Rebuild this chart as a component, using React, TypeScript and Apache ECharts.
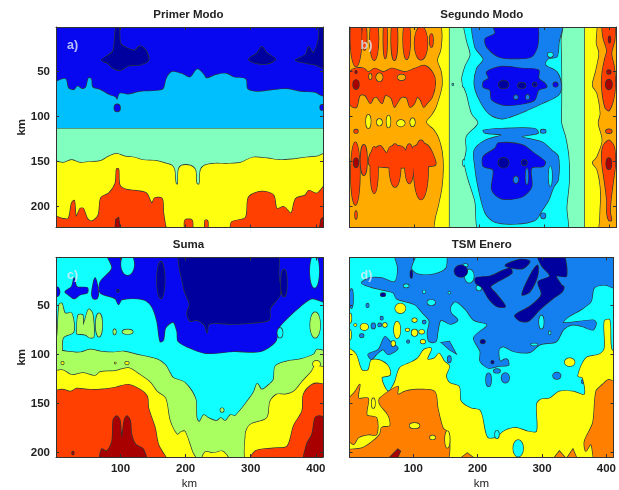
import React, { useEffect, useRef } from "react";
import * as echarts from "echarts";

// Tick labels and axis extents (km)
const xTicks = [100, 200, 300, 400];
const yTicks = [50, 100, 150, 200];
const xMin = 1;
const xMax = 411;
const yMaxTop = 224;
const yMaxBottom = 205;
const titles = ["Primer Modo", "Segundo Modo", "Suma", "TSM Enero"];
const tags = ["a)", "b)", "c)", "d)"];

// Jet colours of the filled contour levels
const navy = "#00009f";
const blue = "#0808f0";
const azure = "#1480f0";
const sky = "#00bfff";
const cyan = "#10ffff";
const aqua = "#80ffbf";
const lime = "#aaff60";
const yellow = "#ffff10";
const amber = "#ffab00";
const orange = "#ff8000";
const red = "#ff4000";
const maroon = "#a80000";

// Panel a: contour regions, flat x,y lists in km
const aFull = [1, 1, 411, 1, 411, 224, 1, 224];
const aNavy = [
  [71, 38, 82, 32, 89, 27, 93, 2, 98, 2, 100, 19, 112, 25, 122, 27, 130, 22, 139, 27, 143, 38, 130, 43, 112, 44, 100, 49, 89, 47, 80, 41],
  [297, 37, 310, 30, 317, 23, 325, 30, 338, 37, 325, 42, 307, 41],
  [369, 38, 384, 32, 389, 23, 396, 30, 404, 15, 407, 1, 411, 1, 411, 47, 399, 43, 384, 41],
];
const aSky = [
  [1, 67, 7, 60, 16, 59, 20, 69, 29, 71, 34, 67, 41, 70, 47, 68, 51, 58, 55, 59, 57, 68, 69, 71, 84, 77, 92, 79, 95, 82, 99, 75, 112, 76, 130, 73, 156, 72, 166, 70, 171, 58, 179, 51, 194, 53, 207, 57, 218, 48, 228, 54, 232, 58, 248, 54, 263, 53, 274, 57, 292, 59, 295, 70, 310, 73, 335, 71, 356, 70, 376, 73, 399, 74, 406, 77, 411, 82, 411, 224, 1, 224],
];
const aDots = [[95, 91, 4.5, 4], [410, 90.5, 3.5, 3]];
const aAqua = [1, 114, 411, 114, 411, 224, 1, 224];
const aYellow = [1, 151, 12, 152, 25, 149, 38, 152, 53, 151, 69, 150, 82, 145, 94, 142, 107, 145, 120, 146, 135, 149, 156, 150, 171, 153, 179, 155, 183, 160, 185, 175, 188, 176, 189, 160, 194, 155, 207, 155, 215, 160, 217, 175, 221, 176, 223, 160, 229, 155, 243, 153, 263, 153, 284, 152, 304, 146, 325, 147, 345, 149, 366, 148, 386, 146, 402, 145, 411, 142, 411, 224, 1, 224];
const aRed = [1, 211, 10, 214, 20, 214, 25, 197, 29, 194, 32, 212, 38, 203, 43, 203, 49, 214, 56, 217, 66, 210, 70, 191, 82, 186, 92, 175, 94, 159, 97, 159, 99, 177, 110, 182, 125, 183, 140, 186, 148, 197, 153, 191, 164, 192, 166, 208, 174, 224, 197, 224, 199, 216, 210, 216, 212, 224, 228, 224, 230, 216, 234, 217, 236, 224, 266, 224, 271, 218, 292, 213, 297, 190, 317, 184, 335, 188, 340, 203, 351, 201, 362, 208, 369, 192, 384, 188, 389, 183, 402, 186, 411, 174, 411, 224, 1, 224];
const aMaroon = [[92, 224, 93, 215, 97, 213, 99, 224], [406, 224, 408, 215, 411, 213, 411, 224]];

// Panel b
const bAmber = [1, 1, 411, 1, 411, 224, 1, 224];
const bYellow = [
  [144, 1, 144, 12, 142, 27, 137, 38, 143, 51, 144, 67, 135, 90, 128, 99, 120, 107, 130, 114, 138, 123, 144, 138, 146, 156, 144, 179, 138, 201, 133, 216, 133, 224, 155, 224, 155, 1],
  [362, 1, 380, 1, 380, 19, 384, 30, 379, 50, 374, 66, 381, 75, 386, 97, 383, 108, 389, 127, 381, 145, 374, 152, 381, 160, 386, 179, 386, 201, 381, 224, 362, 224],
];
const bYellowDots = [[30, 106, 3.6, 7.4], [47, 107, 4, 3.7], [61, 106, 3, 6.7], [80, 108, 6, 3.7], [98, 107, 3.6, 4.5]];
const bAqua = [155, 1, 362, 1, 362, 224, 155, 224];
const bCyan = [180, 1, 181, 15, 187, 32, 179, 45, 174, 60, 181, 75, 189, 97, 199, 108, 181, 123, 181, 138, 178, 152, 184, 171, 194, 194, 204, 224, 333, 224, 335, 201, 339, 171, 338, 145, 333, 123, 327, 108, 327, 86, 327, 51, 326, 15, 326, 1];
const bCyanDots = [[177, 65, 2, 3], [177, 152, 1.5, 3.7], [160, 65, 1, 0.8]];
const bAzure = [
  [194, 1, 194, 23, 207, 37, 197, 47, 193, 64, 199, 79, 215, 97, 235, 103, 256, 99, 276, 93, 297, 86, 322, 77, 327, 67, 320, 51, 302, 43, 307, 36, 320, 34, 323, 19, 326, 1],
  [207, 116, 235, 114, 286, 114, 291, 119, 266, 123, 297, 129, 312, 138, 322, 145, 322, 171, 315, 179, 307, 194, 297, 205, 286, 216, 256, 220, 225, 218, 210, 208, 199, 179, 194, 156, 193, 138, 210, 127, 235, 121, 210, 119],
];
const bAzureDots = [[299, 211, 3.6, 3], [299, 117, 4, 2]];
const bCyanSlits = [[310, 167, 2.5, 11], [310, 32, 4, 2.5]];
const bBlue = [
  [220, 1, 286, 1, 291, 19, 281, 34, 251, 36, 230, 34, 212, 23, 210, 14, 225, 8],
  [212, 51, 235, 45, 266, 47, 292, 49, 292, 58, 302, 64, 304, 68, 292, 71, 286, 82, 271, 86, 240, 88, 220, 82, 217, 71, 207, 68, 207, 62, 215, 58],
  [207, 145, 225, 136, 230, 130, 266, 132, 286, 142, 302, 151, 299, 156, 281, 158, 281, 179, 266, 190, 235, 192, 220, 182, 222, 160, 207, 156],
];
const bBlueDots = [[318, 65, 3.6, 2.6]];
const bAzureHoles = [[257, 79, 3, 2.2], [275, 79, 2.5, 2.6], [257, 171, 3.6, 3.7], [274, 167, 2, 9]];
const bNavyDots = [[238, 65, 7.7, 4.5], [266, 66, 6, 3], [238, 152, 8, 5.6], [270, 152, 4, 3], [286, 65, 3, 2.2]];
const bRedPolys = [
  [2, 51, 10, 47, 23, 47, 30, 51, 40, 47, 53, 51, 66, 47, 76, 49, 87, 51, 102, 47, 117, 44, 130, 53, 133, 64, 128, 79, 120, 86, 115, 90, 110, 82, 105, 79, 101, 86, 94, 90, 89, 80, 81, 79, 74, 86, 70, 90, 65, 80, 56, 77, 51, 86, 43, 79, 38, 80, 33, 86, 25, 77, 17, 77, 12, 90, 6, 90, 1, 79],
  [33, 142, 48, 133, 58, 141, 64, 134, 82, 134, 92, 142, 100, 134, 118, 131, 128, 140, 132, 155, 33, 155],
  [391, 1, 391, 12, 397, 27, 394, 36, 390, 51, 389, 67, 394, 90, 400, 94, 407, 82, 410, 64, 408, 45, 404, 30, 409, 15, 408, 1],
  [389, 149, 391, 134, 400, 127, 408, 134, 410, 153, 407, 171, 403, 194, 402, 207, 404, 216, 400, 216, 397, 208, 397, 194, 393, 171],
];
const bRedBlobs = [[11, 12, 8.7, 33], [24, 12, 3.6, 15], [39, 14, 6.7, 24], [56, 14, 3, 22], [70, 14, 5, 24], [89, 15, 5.6, 22], [111, 19, 10, 18.5], [127, 16, 2.6, 7.4], [10, 164, 7, 35], [23, 149, 5, 17], [39, 160, 6, 26], [71, 155, 9, 24], [93, 153, 7, 22], [111, 160, 11, 33], [11, 210, 1.5, 4.5], [400, 117, 4.6, 2.2], [11, 117, 3, 2]];
const bAmberHoles = [[47, 57, 5, 4.5], [81, 57, 6, 3.3], [33, 56, 2, 3]];
const bMaroonDots = [[400, 153, 4, 6.3], [400, 65, 5, 5.6], [400, 51, 3, 2.2], [401, 15, 1.5, 3.7], [11, 65, 4.6, 5.2], [11, 152, 3.6, 5.2], [11, 51, 1.5, 1.5]];

// Panel c
const cCyanFull = [1, 1, 411, 1, 411, 205, 1, 205];
const cBluePolys = [
  [79, 1, 87, 12, 69, 26, 69, 37, 92, 43, 97, 49, 102, 44, 135, 44, 148, 51, 156, 66, 161, 87, 166, 85, 169, 73, 181, 67, 187, 77, 189, 87, 212, 95, 233, 99, 274, 97, 315, 97, 338, 87, 343, 73, 356, 63, 376, 51, 394, 43, 411, 46, 411, 1],
  [15, 36, 25, 31, 29, 22, 33, 31, 49, 32, 49, 37, 38, 39, 29, 43, 20, 39],
  [56, 37, 61, 22, 66, 36, 64, 43, 58, 43],
];
const cBlueDots = [[2, 36, 4.6, 5]];
const cCyanDots = [[111, 8, 10, 11], [398, 15, 7, 17], [345, 78, 4, 5]];
const cNavyPolys = [[194, 1, 338, 1, 343, 19, 345, 39, 330, 53, 328, 65, 299, 68, 269, 69, 243, 68, 235, 70, 233, 78, 229, 70, 217, 65, 207, 66, 202, 58, 206, 49, 197, 32]];
const cNavyDots = [[162, 24, 6, 19], [351, 27, 4.6, 14], [96, 35, 1.5, 1.4]];
const cLimePolys = [
  [1, 97, 17, 97, 38, 98, 53, 95, 69, 97, 89, 98, 105, 97, 130, 101, 156, 105, 169, 111, 176, 119, 181, 124, 199, 129, 215, 145, 217, 165, 221, 169, 228, 162, 235, 165, 248, 168, 254, 165, 261, 168, 269, 162, 276, 163, 297, 146, 305, 138, 310, 130, 317, 136, 328, 131, 335, 126, 338, 112, 356, 107, 376, 105, 397, 100, 402, 95, 411, 100, 411, 205, 1, 205],
  [3, 80, 6, 49, 10, 48, 15, 58, 25, 58, 28, 77, 12, 83, 10, 97, 3, 97, 2, 83],
  [33, 77, 35, 60, 42, 60, 43, 70, 51, 54, 57, 58, 59, 82, 53, 83, 46, 80, 33, 79],
];
const cLimeDots = [[67, 70, 5, 12], [91, 77, 2, 2.7], [111, 77, 8, 2.4], [399, 70, 7.7, 13], [256, 157, 2.6, 2]];
const cYellowPolys = [
  [1, 121, 10, 116, 25, 121, 43, 119, 61, 122, 69, 118, 92, 117, 112, 114, 130, 121, 146, 129, 156, 138, 169, 145, 176, 168, 187, 182, 194, 179, 199, 179, 210, 199, 217, 205, 1, 205],
  [225, 205, 230, 200, 243, 201, 256, 199, 263, 203, 269, 205],
  [297, 205, 292, 182, 299, 172, 325, 165, 330, 148, 340, 141, 353, 141, 366, 138, 379, 128, 394, 117, 399, 112, 411, 116, 411, 205],
];
const cYellowDots = [[401, 110, 5.6, 3.4], [11, 109, 2, 1.4], [110, 109, 3, 1.4], [92, 109, 1, 0.8]];
const cRedPolys = [
  [1, 141, 10, 136, 23, 138, 33, 135, 48, 136, 69, 136, 92, 134, 112, 131, 130, 136, 141, 143, 143, 155, 153, 175, 158, 192, 171, 205, 1, 205],
  [299, 205, 307, 199, 335, 196, 356, 194, 366, 173, 379, 158, 381, 141, 394, 131, 407, 130, 411, 134, 411, 205],
];
const cMaroonPolys = [
  [70, 205, 71, 197, 79, 199, 87, 189, 89, 167, 94, 163, 99, 167, 102, 185, 106, 167, 110, 163, 115, 168, 117, 182, 123, 192, 135, 197, 139, 205],
  [382, 205, 386, 192, 394, 182, 399, 165, 406, 163, 411, 168, 411, 205],
];
const cMaroonDots = [[27, 201, 1.5, 1.7]];

// Panel d
const dCyanFull = [1, 1, 411, 1, 411, 205, 1, 205];
const dBluePolys = [
  [71, 1, 105, 1, 97, 12, 107, 18, 133, 18, 151, 12, 158, 1, 411, 1, 411, 32, 397, 29, 381, 32, 376, 46, 361, 54, 338, 63, 333, 68, 379, 65, 384, 68, 379, 75, 361, 71, 345, 70, 333, 75, 322, 87, 297, 90, 281, 98, 256, 97, 240, 92, 233, 95, 235, 107, 245, 105, 248, 111, 233, 112, 217, 114, 204, 107, 204, 97, 194, 83, 215, 70, 194, 65, 181, 54, 166, 46, 158, 51, 159, 58, 169, 65, 158, 69, 143, 65, 138, 77, 135, 87, 125, 87, 122, 78, 125, 66, 115, 58, 102, 49, 74, 43, 69, 37, 51, 34, 33, 31, 20, 27, 33, 22, 51, 22, 71, 26, 76, 12],
  [30, 100, 46, 95, 56, 82, 64, 87, 76, 94, 61, 100, 53, 95, 43, 100, 35, 105],
  [144, 88, 156, 87, 166, 99, 156, 95],
];
const dBlueDots = [[243, 124, 6, 5], [217, 126, 4, 6.8], [230, 117, 5, 2], [323, 122, 6, 3.4], [243, 108, 4.6, 3], [38, 71, 3, 2.7], [48, 70, 2.6, 1.7], [20, 81, 3, 1.7], [4, 43, 2.6, 10], [29, 50, 2, 2], [117, 67, 2.6, 1.7], [156, 105, 2.6, 3.4], [133, 111, 1.5, 2], [87, 125, 3, 2.7], [379, 112, 2, 2], [378, 122, 2.6, 1.7], [363, 128, 1.5, 1.7], [51, 63, 2, 1.7], [92, 87, 2, 1.4]];
const dCyanDots = [[128, 47, 6, 2.7], [187, 20, 7, 6.8], [202, 32, 4, 2.7], [299, 67, 3.6, 6.8], [288, 90, 5, 1], [312, 78, 1.5, 1.7], [89, 30, 4, 1.7], [181, 9, 3.6, 1.4], [117, 36, 2, 1.4], [156, 37, 1.5, 1]];
const dNavyPolys = [
  [197, 22, 220, 20, 240, 14, 251, 12, 253, 17, 230, 26, 220, 31, 230, 39, 243, 51, 230, 51, 217, 43, 207, 32, 197, 27],
  [243, 9, 266, 3, 281, 5, 271, 12, 256, 12],
  [292, 1, 330, 1, 338, 20, 322, 20, 333, 34, 317, 43, 297, 54, 279, 66, 266, 66, 258, 60, 281, 51, 299, 39, 294, 26, 312, 20, 299, 9],
  [269, 39, 281, 20, 293, 9, 293, 20, 281, 36],
];
const dNavyDots = [[174, 15, 10, 6], [53, 39, 3.6, 1.7], [208, 87, 3.6, 2], [223, 108, 2, 1.4], [330, 32, 4, 2.4], [97, 18, 1.5, 4]];
const dYellowPolys = [
  [1, 94, 10, 99, 20, 116, 30, 116, 35, 106, 48, 106, 61, 112, 64, 121, 51, 124, 61, 138, 71, 129, 79, 114, 94, 109, 107, 104, 117, 95, 128, 94, 122, 105, 133, 104, 140, 99, 148, 107, 156, 112, 151, 122, 156, 129, 171, 133, 174, 148, 189, 155, 204, 158, 215, 185, 230, 185, 240, 179, 258, 175, 279, 179, 292, 179, 292, 151, 299, 146, 312, 145, 327, 138, 348, 138, 366, 141, 363, 124, 356, 122, 368, 104, 389, 100, 397, 94, 397, 66, 405, 65, 408, 95, 411, 99, 411, 205, 1, 205],
];
const dYellowDots = [[80, 53, 8, 5], [24, 72, 6, 3.4], [75, 75, 5, 8.5], [102, 65, 3.6, 2], [102, 78, 4.6, 3.4], [113, 77, 4, 2], [115, 87, 3.6, 2], [69, 89, 3, 2.7], [56, 70, 3, 2], [91, 75, 3, 1.4], [2, 63, 2, 4.8], [10, 70, 2, 1], [2, 80, 1.5, 5], [343, 108, 7.7, 4]];
const dCyanHoles = [[230, 182, 3, 4], [263, 196, 7.7, 8.5]];
const dOrangePolys = [
  [1, 151, 10, 138, 17, 131, 15, 145, 30, 145, 28, 162, 43, 165, 43, 182, 30, 182, 15, 185, 7, 192, 1, 182],
  [48, 145, 76, 133, 76, 141, 87, 138, 105, 136, 133, 138, 138, 155, 146, 175, 156, 182, 148, 205, 1, 205, 1, 199, 20, 196, 35, 190, 48, 182, 51, 175, 64, 173, 61, 162, 48, 151],
  [176, 205, 184, 201, 192, 205],
  [320, 205, 327, 199, 335, 205],
  [340, 205, 348, 197, 353, 205],
  [366, 189, 379, 170, 384, 138, 394, 131, 404, 126, 411, 134, 411, 205, 384, 205, 376, 192, 368, 199],
];
const dYellowHoles = [[102, 173, 7.7, 2.7], [38, 150, 2.6, 5], [130, 185, 4, 2], [153, 187, 3.6, 8.5]];
const dMaroonPolys = [[64, 205, 76, 197, 80, 199, 76, 205]];

type Layer = [string, number[][], number[][]];
const none: number[][] = [];
const panelLayers: Layer[][] = [
  [
    [blue, [aFull], none],
    [navy, aNavy, none],
    [sky, aSky, none],
    [blue, none, aDots],
    [aqua, [aAqua], none],
    [yellow, [aYellow], none],
    [red, [aRed], none],
    [maroon, aMaroon, none],
  ],
  [
    [amber, [bAmber], none],
    [yellow, bYellow, bYellowDots],
    [aqua, [bAqua], none],
    [cyan, [bCyan], bCyanDots],
    [azure, bAzure, bAzureDots],
    [cyan, none, bCyanSlits],
    [blue, bBlue, bBlueDots],
    [azure, none, bAzureHoles],
    [navy, none, bNavyDots],
    [red, bRedPolys, bRedBlobs],
    [amber, none, bAmberHoles],
    [maroon, none, bMaroonDots],
  ],
  [
    [cyan, [cCyanFull], none],
    [blue, cBluePolys, cBlueDots],
    [cyan, none, cCyanDots],
    [navy, cNavyPolys, cNavyDots],
    [lime, cLimePolys, cLimeDots],
    [yellow, cYellowPolys, cYellowDots],
    [red, cRedPolys, none],
    [maroon, cMaroonPolys, cMaroonDots],
  ],
  [
    [cyan, [dCyanFull], none],
    [azure, dBluePolys, dBlueDots],
    [cyan, none, dCyanDots],
    [navy, dNavyPolys, dNavyDots],
    [yellow, dYellowPolys, dYellowDots],
    [cyan, none, dCyanHoles],
    [orange, dOrangePolys, none],
    [yellow, none, dYellowHoles],
    [maroon, dMaroonPolys, none],
  ],
];

const EDGE = "#2b3838";
const gridBoxes = [
  { left: 56, top: 27, width: 267, height: 200.5 },
  { left: 349.5, top: 27, width: 266.5, height: 200.5 },
  { left: 56, top: 257.5, width: 267, height: 200.5 },
  { left: 349.5, top: 257.5, width: 266.5, height: 200.5 },
];

type Item = { color: string; poly?: number[]; ell?: number[]; outline: boolean };

function buildItems(layers: Layer[]): Item[] {
  const items: Item[] = [];
  for (const [color, polys, ells] of layers) {
    // outline pass first, then a fill pass so overlapping shapes merge into one region
    for (const outline of [true, false]) {
      for (const poly of polys) items.push({ color, poly, outline });
      for (const ell of ells) items.push({ color, ell, outline });
    }
  }
  return items;
}

function buildOption() {
  const grid: any[] = [];
  const xAxis: any[] = [];
  const yAxis: any[] = [];
  const series: any[] = [];
  const title: any[] = [];
  const graphic: any[] = [];
  gridBoxes.forEach((box, i) => {
    const yMax = i < 2 ? yMaxTop : yMaxBottom;
    const showX = i >= 2;
    const showY = i % 2 === 0;
    grid.push(box);
    const base = {
      type: "value",
      gridIndex: i,
      z: 10,
      splitLine: { show: false },
      axisLine: { show: true, onZero: false, lineStyle: { color: "#333", width: 1 } },
    };
    const labelStyle = { color: "#222", fontFamily: "Liberation Sans", fontSize: 11.5, fontWeight: "bold" };
    const tick = (values: number[]) => ({ show: true, inside: true, length: 3, customValues: values, lineStyle: { color: "#333" } });
    xAxis.push({
      ...base,
      position: "bottom",
      min: xMin,
      max: xMax,
      axisTick: tick(xTicks),
      axisLabel: { show: showX, customValues: xTicks, margin: 5, ...labelStyle },
      name: showX ? "km" : "",
      nameLocation: "middle",
      nameGap: 20,
      nameTextStyle: { color: "#222", fontFamily: "Liberation Sans", fontSize: 11.5 },
    });
    xAxis.push({ ...base, position: "top", min: xMin, max: xMax, axisTick: tick(xTicks), axisLabel: { show: false } });
    yAxis.push({
      ...base,
      position: "left",
      inverse: true,
      min: 1,
      max: yMax,
      axisTick: tick(yTicks),
      axisLabel: { show: showY, customValues: yTicks, margin: 6, ...labelStyle },
      name: showY ? "km" : "",
      nameLocation: "middle",
      nameGap: 25,
      nameTextStyle: { color: "#222", fontFamily: "Liberation Sans", fontSize: 11.5, fontWeight: "bold" },
    });
    yAxis.push({ ...base, position: "right", inverse: true, min: 1, max: yMax, axisTick: tick(yTicks), axisLabel: { show: false } });

    const items = buildItems(panelLayers[i]);
    // vertices on the frame are pushed just past it, so rounding happens outside the clip
    const pastFrameX = (v: number) => (v <= xMin ? xMin - 7 : v >= xMax ? xMax + 7 : v);
    const pastFrameY = (v: number) => (v <= 1 ? -6 : v >= yMax ? yMax + 7 : v);
    series.push({
      type: "custom",
      coordinateSystem: "cartesian2d",
      xAxisIndex: i * 2,
      yAxisIndex: i * 2,
      clip: true,
      silent: true,
      encode: { x: 0, y: 1 },
      data: items.map((it, k) => {
        const s = it.poly || it.ell || [xMin, 1];
        return [s[0], s[1], k];
      }),
      renderItem: (params: any, api: any) => {
        const it = items[params.dataIndex];
        const style = it.outline
          ? { fill: it.color, stroke: EDGE, lineWidth: 1.4 }
          : { fill: it.color, stroke: null, lineWidth: 0 };
        if (it.poly) {
          const points: number[][] = [];
          const curved = it.poly.length > 8;
          for (let p = 0; p < it.poly.length; p += 2) {
            const x = curved ? pastFrameX(it.poly[p]) : it.poly[p];
            const y = curved ? pastFrameY(it.poly[p + 1]) : it.poly[p + 1];
            points.push(api.coord([x, y]));
          }
          return { type: "polygon", shape: { points, smooth: curved ? 0.3 : 0 }, style };
        }
        const e = it.ell as number[];
        const c = api.coord([e[0], e[1]]);
        const r = api.coord([e[0] + e[2], e[1] + e[3]]);
        return { type: "ellipse", shape: { cx: c[0], cy: c[1], rx: Math.abs(r[0] - c[0]), ry: Math.abs(r[1] - c[1]) }, style };
      },
    });
    title.push({
      text: titles[i],
      left: box.left + box.width / 2 - 1,
      top: box.top - 19.5,
      padding: 0,
      textAlign: "center",
      textStyle: { color: "#222", fontFamily: "Liberation Sans", fontSize: 11.5, fontWeight: "bold" },
    });
    graphic.push({
      type: "text",
      left: box.left + 11,
      top: box.top + 11,
      z: 20,
      style: { text: tags[i], fill: "rgba(225,235,250,0.8)", font: "bold 12.5px 'Liberation Sans'" },
    });
  });
  return { animation: false, backgroundColor: "#fff", grid, xAxis, yAxis, series, title, graphic };
}

export default function App() {
  const ref = useRef<HTMLDivElement>(null);
  useEffect(() => {
    document.body.style.margin = "0";
    const chart = echarts.init(ref.current as HTMLDivElement, undefined, { renderer: "svg" });
    chart.setOption(buildOption() as any);
    return () => chart.dispose();
  }, []);
  return <div ref={ref} style={{ width: 619, height: 490, filter: "blur(0.4px)" }} />;
}
